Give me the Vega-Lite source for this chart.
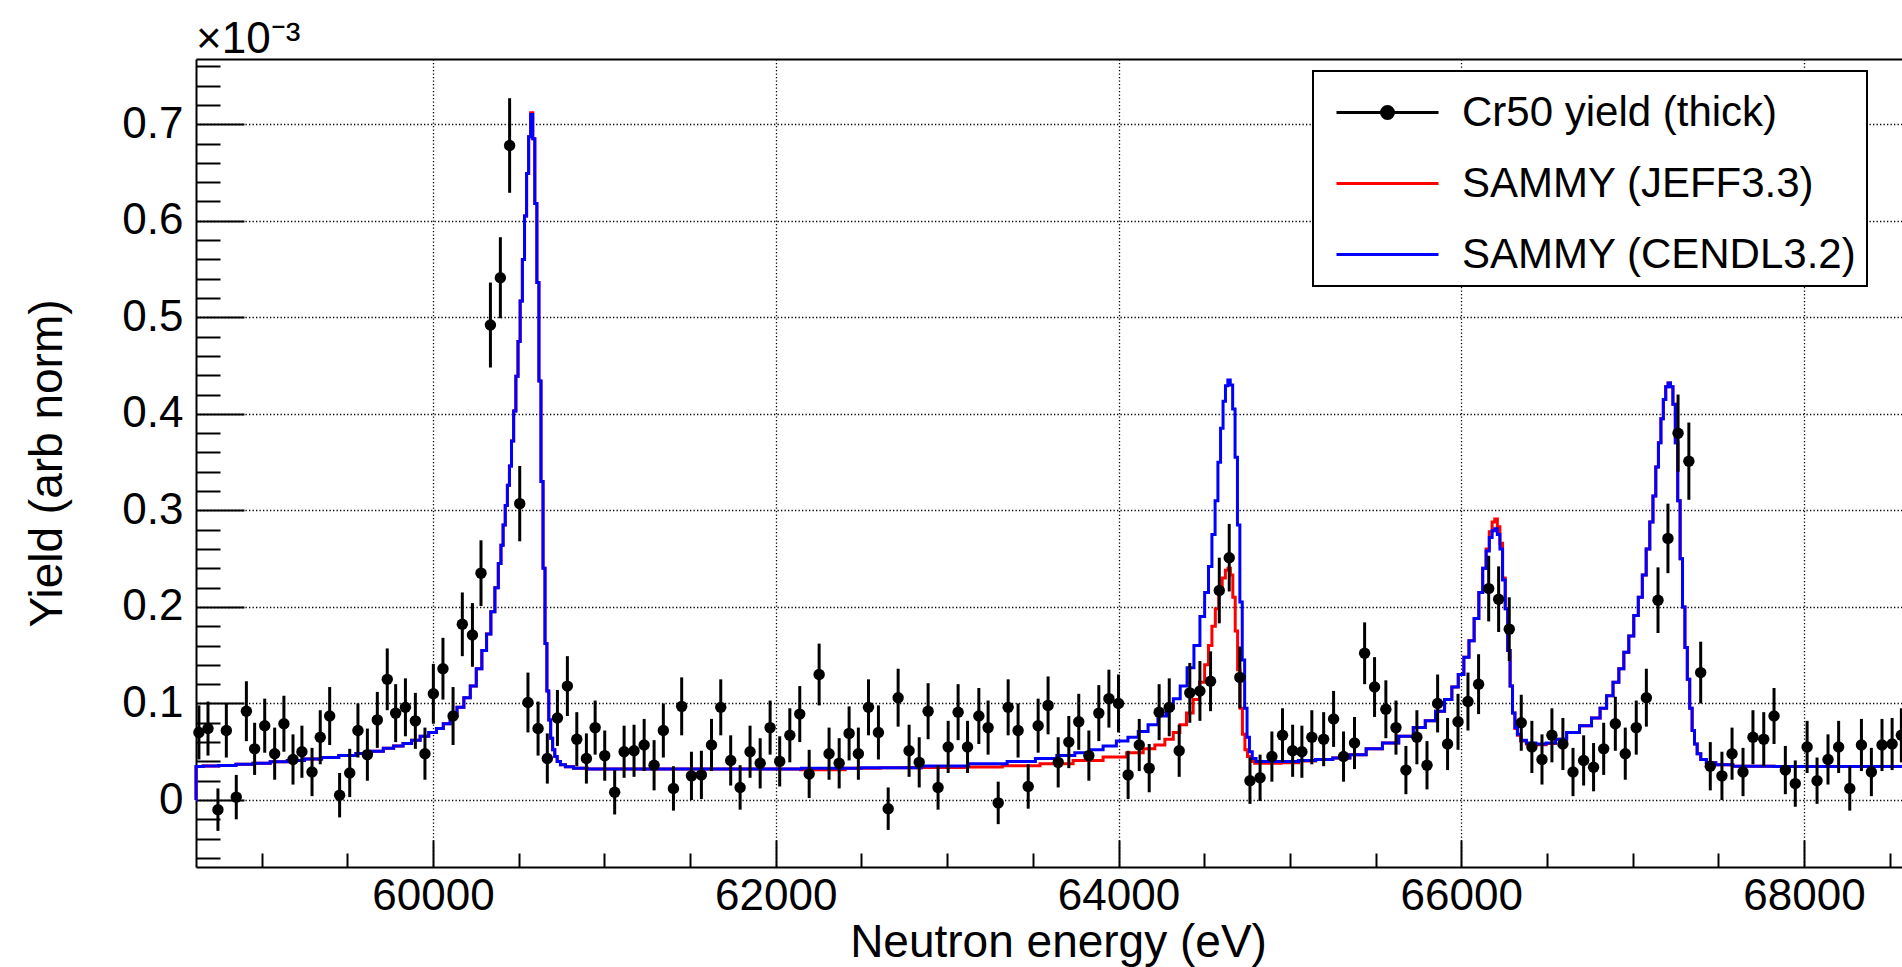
{
  "$schema": "https://vega.github.io/schema/vega-lite/v6.json",
  "width": 1706,
  "height": 808,
  "autosize": {"type": "none"},
  "padding": {"left": 196, "top": 59, "right": 0, "bottom": 100},
  "background": "white",
  "title": {"text": "×10⁻³", "anchor": "start", "frame": "group", "fontSize": 44, "fontWeight": "normal", "font": "Liberation Sans", "color": "black", "baseline": "alphabetic", "offset": 7, "dy": 45},
  "config": {
    "font": "Liberation Sans",
    "view": {"stroke": null},
    "axis": {"labelColor": "black", "titleColor": "black", "titleFontWeight": "normal", "labelFont": "Liberation Sans", "titleFont": "Liberation Sans", "tickColor": "black", "domainColor": "black"}
  },
  "datasets": {
    "pts": [
      {"e":58634,"y":0.070,"err":0.028},{"e":58687,"y":0.074,"err":0.028},{"e":58745,"y":-0.010,"err":0.022},{"e":58794,"y":0.072,"err":0.028},
      {"e":58852,"y":0.003,"err":0.023},{"e":58911,"y":0.092,"err":0.031},{"e":58959,"y":0.053,"err":0.027},{"e":59018,"y":0.077,"err":0.028},
      {"e":59076,"y":0.048,"err":0.027},{"e":59130,"y":0.079,"err":0.029},{"e":59183,"y":0.042,"err":0.026},{"e":59235,"y":0.050,"err":0.027},
      {"e":59294,"y":0.029,"err":0.025},{"e":59342,"y":0.065,"err":0.028},{"e":59397,"y":0.087,"err":0.030},{"e":59455,"y":0.005,"err":0.023},
      {"e":59514,"y":0.028,"err":0.025},{"e":59562,"y":0.072,"err":0.028},{"e":59617,"y":0.047,"err":0.027},{"e":59675,"y":0.083,"err":0.029},
      {"e":59733,"y":0.125,"err":0.032},{"e":59782,"y":0.090,"err":0.030},{"e":59839,"y":0.096,"err":0.030},{"e":59897,"y":0.082,"err":0.029},
      {"e":59953,"y":0.048,"err":0.027},{"e":60002,"y":0.110,"err":0.031},{"e":60058,"y":0.136,"err":0.032},{"e":60117,"y":0.087,"err":0.030},
      {"e":60171,"y":0.182,"err":0.033},{"e":60230,"y":0.171,"err":0.033},{"e":60280,"y":0.235,"err":0.034},{"e":60335,"y":0.492,"err":0.044},
      {"e":60393,"y":0.541,"err":0.042},{"e":60447,"y":0.678,"err":0.049},{"e":60506,"y":0.307,"err":0.039},{"e":60554,"y":0.101,"err":0.031},
      {"e":60613,"y":0.074,"err":0.028},{"e":60667,"y":0.043,"err":0.026},{"e":60726,"y":0.085,"err":0.029},{"e":60784,"y":0.118,"err":0.031},
      {"e":60839,"y":0.063,"err":0.028},{"e":60895,"y":0.043,"err":0.026},{"e":60946,"y":0.075,"err":0.028},{"e":61002,"y":0.046,"err":0.026},
      {"e":61060,"y":0.008,"err":0.023},{"e":61115,"y":0.050,"err":0.027},{"e":61173,"y":0.051,"err":0.027},{"e":61232,"y":0.057,"err":0.027},
      {"e":61290,"y":0.036,"err":0.026},{"e":61344,"y":0.072,"err":0.028},{"e":61403,"y":0.012,"err":0.023},{"e":61451,"y":0.097,"err":0.030},
      {"e":61508,"y":0.025,"err":0.025},{"e":61566,"y":0.026,"err":0.025},{"e":61625,"y":0.057,"err":0.027},{"e":61679,"y":0.096,"err":0.029},
      {"e":61737,"y":0.041,"err":0.026},{"e":61792,"y":0.013,"err":0.023},{"e":61850,"y":0.050,"err":0.027},{"e":61909,"y":0.038,"err":0.026},
      {"e":61967,"y":0.075,"err":0.028},{"e":62023,"y":0.040,"err":0.026},{"e":62082,"y":0.067,"err":0.028},{"e":62140,"y":0.089,"err":0.029},
      {"e":62195,"y":0.027,"err":0.025},{"e":62253,"y":0.130,"err":0.032},{"e":62311,"y":0.048,"err":0.027},{"e":62370,"y":0.038,"err":0.026},
      {"e":62428,"y":0.069,"err":0.028},{"e":62482,"y":0.048,"err":0.027},{"e":62541,"y":0.096,"err":0.029},{"e":62599,"y":0.070,"err":0.028},
      {"e":62656,"y":-0.009,"err":0.022},{"e":62714,"y":0.106,"err":0.030},{"e":62778,"y":0.051,"err":0.027},{"e":62837,"y":0.039,"err":0.026},
      {"e":62889,"y":0.092,"err":0.029},{"e":62947,"y":0.013,"err":0.023},{"e":63006,"y":0.055,"err":0.027},{"e":63064,"y":0.091,"err":0.029},
      {"e":63119,"y":0.055,"err":0.027},{"e":63185,"y":0.087,"err":0.029},{"e":63239,"y":0.075,"err":0.028},{"e":63298,"y":-0.003,"err":0.022},
      {"e":63356,"y":0.096,"err":0.029},{"e":63414,"y":0.072,"err":0.028},{"e":63473,"y":0.014,"err":0.023},{"e":63531,"y":0.077,"err":0.028},
      {"e":63589,"y":0.098,"err":0.030},{"e":63648,"y":0.039,"err":0.026},{"e":63710,"y":0.060,"err":0.027},{"e":63768,"y":0.081,"err":0.029},
      {"e":63827,"y":0.046,"err":0.026},{"e":63885,"y":0.090,"err":0.029},{"e":63944,"y":0.105,"err":0.030},{"e":64000,"y":0.100,"err":0.030},
      {"e":64056,"y":0.026,"err":0.025},{"e":64121,"y":0.057,"err":0.027},{"e":64179,"y":0.033,"err":0.025},{"e":64237,"y":0.091,"err":0.029},
      {"e":64296,"y":0.096,"err":0.030},{"e":64354,"y":0.051,"err":0.027},{"e":64416,"y":0.111,"err":0.031},{"e":64475,"y":0.113,"err":0.031},
      {"e":64537,"y":0.123,"err":0.031},{"e":64588,"y":0.217,"err":0.034},{"e":64646,"y":0.251,"err":0.035},{"e":64708,"y":0.127,"err":0.032},
      {"e":64767,"y":0.020,"err":0.024},{"e":64826,"y":0.023,"err":0.024},{"e":64895,"y":0.045,"err":0.026},{"e":64957,"y":0.067,"err":0.028},
      {"e":65016,"y":0.051,"err":0.027},{"e":65070,"y":0.050,"err":0.027},{"e":65128,"y":0.065,"err":0.028},{"e":65197,"y":0.063,"err":0.028},
      {"e":65255,"y":0.084,"err":0.029},{"e":65313,"y":0.045,"err":0.026},{"e":65377,"y":0.059,"err":0.027},{"e":65436,"y":0.152,"err":0.032},
      {"e":65494,"y":0.117,"err":0.031},{"e":65560,"y":0.094,"err":0.030},{"e":65619,"y":0.075,"err":0.028},{"e":65677,"y":0.031,"err":0.025},
      {"e":65741,"y":0.065,"err":0.028},{"e":65800,"y":0.036,"err":0.025},{"e":65862,"y":0.100,"err":0.030},{"e":65920,"y":0.058,"err":0.027},
      {"e":65981,"y":0.081,"err":0.029},{"e":66039,"y":0.102,"err":0.030},{"e":66101,"y":0.120,"err":0.031},{"e":66160,"y":0.219,"err":0.034},
      {"e":66218,"y":0.208,"err":0.034},{"e":66280,"y":0.177,"err":0.033},{"e":66350,"y":0.080,"err":0.029},{"e":66412,"y":0.055,"err":0.027},
      {"e":66471,"y":0.042,"err":0.026},{"e":66529,"y":0.067,"err":0.028},{"e":66593,"y":0.058,"err":0.027},{"e":66652,"y":0.029,"err":0.025},
      {"e":66714,"y":0.041,"err":0.026},{"e":66772,"y":0.034,"err":0.025},{"e":66831,"y":0.053,"err":0.027},{"e":66899,"y":0.079,"err":0.028},
      {"e":66957,"y":0.048,"err":0.027},{"e":67021,"y":0.075,"err":0.028},{"e":67080,"y":0.106,"err":0.030},{"e":67148,"y":0.207,"err":0.034},
      {"e":67206,"y":0.271,"err":0.036},{"e":67265,"y":0.380,"err":0.040},{"e":67328,"y":0.351,"err":0.040},{"e":67397,"y":0.132,"err":0.032},
      {"e":67453,"y":0.035,"err":0.025},{"e":67521,"y":0.025,"err":0.025},{"e":67580,"y":0.048,"err":0.027},{"e":67644,"y":0.029,"err":0.025},
      {"e":67702,"y":0.065,"err":0.028},{"e":67765,"y":0.063,"err":0.028},{"e":67825,"y":0.087,"err":0.029},{"e":67891,"y":0.031,"err":0.025},
      {"e":67949,"y":0.017,"err":0.024},{"e":68018,"y":0.055,"err":0.027},{"e":68076,"y":0.020,"err":0.024},{"e":68140,"y":0.042,"err":0.026},
      {"e":68202,"y":0.055,"err":0.027},{"e":68267,"y":0.012,"err":0.023},{"e":68335,"y":0.057,"err":0.027},{"e":68393,"y":0.029,"err":0.025},
      {"e":68455,"y":0.057,"err":0.027},{"e":68514,"y":0.058,"err":0.027},{"e":68568,"y":0.067,"err":0.028}
    ],
    "cendl": [
      {"e":58617,"y":0},{"e":58617.5,"y":0.0348},{"e":58700,"y":0.0352},{"e":58800,"y":0.0358},{"e":58900,"y":0.0370},{"e":59000,"y":0.0380},
      {"e":59100,"y":0.0395},{"e":59200,"y":0.0410},{"e":59300,"y":0.0425},{"e":59400,"y":0.0440},{"e":59500,"y":0.0460},{"e":59600,"y":0.0482},
      {"e":59680,"y":0.0505},{"e":59740,"y":0.0535},{"e":59800,"y":0.0560},{"e":59850,"y":0.0585},{"e":59900,"y":0.0620},{"e":59950,"y":0.0660},
      {"e":60000,"y":0.0700},{"e":60040,"y":0.0740},{"e":60080,"y":0.0790},{"e":60120,"y":0.0870},{"e":60160,"y":0.0960},{"e":60200,"y":0.1060},
      {"e":60235,"y":0.1180},{"e":60270,"y":0.1360},{"e":60300,"y":0.1550},{"e":60325,"y":0.1720},{"e":60350,"y":0.1950},{"e":60372,"y":0.2200},
      {"e":60390,"y":0.2450},{"e":60403,"y":0.2640},{"e":60415,"y":0.2850},{"e":60428,"y":0.3050},{"e":60440,"y":0.3260},{"e":60452,"y":0.3460},
      {"e":60464,"y":0.3720},{"e":60477,"y":0.4030},{"e":60490,"y":0.4390},{"e":60502,"y":0.4750},{"e":60515,"y":0.5170},{"e":60528,"y":0.5600},
      {"e":60540,"y":0.6050},{"e":60552,"y":0.6490},{"e":60564,"y":0.6870},{"e":60576,"y":0.7100},{"e":60588,"y":0.6850},{"e":60600,"y":0.6180},
      {"e":60612,"y":0.5360},{"e":60624,"y":0.4340},{"e":60636,"y":0.3300},{"e":60648,"y":0.2400},{"e":60659,"y":0.1620},{"e":60670,"y":0.1130},
      {"e":60681,"y":0.0830},{"e":60692,"y":0.0640},{"e":60704,"y":0.0520},{"e":60717,"y":0.0450},{"e":60732,"y":0.0400},{"e":60755,"y":0.0365},
      {"e":60790,"y":0.0345},{"e":60850,"y":0.0330},{"e":60950,"y":0.0322},{"e":61200,"y":0.0320},{"e":61600,"y":0.0320},{"e":62000,"y":0.0322},
      {"e":62300,"y":0.0330},{"e":62700,"y":0.0335},{"e":63000,"y":0.0352},{"e":63250,"y":0.0376},{"e":63450,"y":0.0400},{"e":63580,"y":0.0430},
      {"e":63700,"y":0.0460},{"e":63790,"y":0.0490},{"e":63870,"y":0.0520},{"e":63950,"y":0.0560},{"e":64025,"y":0.0610},{"e":64085,"y":0.0650},
      {"e":64145,"y":0.0710},{"e":64200,"y":0.0780},{"e":64260,"y":0.0870},{"e":64300,"y":0.0950},{"e":64340,"y":0.1050},{"e":64380,"y":0.1180},
      {"e":64420,"y":0.1370},{"e":64460,"y":0.1600},{"e":64490,"y":0.1900},{"e":64515,"y":0.2150},{"e":64535,"y":0.2420},{"e":64555,"y":0.2750},
      {"e":64572,"y":0.3100},{"e":64588,"y":0.3500},{"e":64603,"y":0.3850},{"e":64617,"y":0.4130},{"e":64631,"y":0.4290},{"e":64645,"y":0.4350},
      {"e":64659,"y":0.4300},{"e":64673,"y":0.4050},{"e":64687,"y":0.3550},{"e":64701,"y":0.2850},{"e":64715,"y":0.2050},{"e":64729,"y":0.1450},
      {"e":64743,"y":0.0950},{"e":64757,"y":0.0650},{"e":64771,"y":0.0500},{"e":64790,"y":0.0430},{"e":64815,"y":0.0400},{"e":64900,"y":0.0400},
      {"e":65000,"y":0.0400},{"e":65100,"y":0.0410},{"e":65200,"y":0.0420},{"e":65300,"y":0.0435},{"e":65400,"y":0.0470},{"e":65490,"y":0.0530},
      {"e":65590,"y":0.0590},{"e":65680,"y":0.0660},{"e":65760,"y":0.0750},{"e":65820,"y":0.0820},{"e":65880,"y":0.0920},{"e":65925,"y":0.1040},
      {"e":65965,"y":0.1170},{"e":66000,"y":0.1300},{"e":66030,"y":0.1480},{"e":66060,"y":0.1650},{"e":66090,"y":0.1880},{"e":66115,"y":0.2150},
      {"e":66135,"y":0.2400},{"e":66155,"y":0.2580},{"e":66172,"y":0.2720},{"e":66188,"y":0.2790},{"e":66203,"y":0.2810},{"e":66218,"y":0.2750},
      {"e":66233,"y":0.2600},{"e":66249,"y":0.2280},{"e":66264,"y":0.1980},{"e":66278,"y":0.1550},{"e":66292,"y":0.1180},{"e":66306,"y":0.0900},
      {"e":66320,"y":0.0750},{"e":66335,"y":0.0680},{"e":66360,"y":0.0620},{"e":66400,"y":0.0590},{"e":66470,"y":0.0580},{"e":66520,"y":0.0590},
      {"e":66580,"y":0.0630},{"e":66650,"y":0.0700},{"e":66730,"y":0.0770},{"e":66790,"y":0.0850},{"e":66830,"y":0.0950},{"e":66866,"y":0.1080},
      {"e":66905,"y":0.1220},{"e":66934,"y":0.1360},{"e":66963,"y":0.1530},{"e":66992,"y":0.1700},{"e":67021,"y":0.1910},{"e":67045,"y":0.2100},
      {"e":67068,"y":0.2330},{"e":67090,"y":0.2600},{"e":67110,"y":0.2880},{"e":67127,"y":0.3150},{"e":67143,"y":0.3450},{"e":67158,"y":0.3700},
      {"e":67172,"y":0.3950},{"e":67186,"y":0.4150},{"e":67200,"y":0.4280},{"e":67214,"y":0.4320},{"e":67228,"y":0.4280},{"e":67242,"y":0.4100},
      {"e":67256,"y":0.3700},{"e":67270,"y":0.3100},{"e":67284,"y":0.2500},{"e":67298,"y":0.2000},{"e":67312,"y":0.1580},{"e":67326,"y":0.1250},
      {"e":67340,"y":0.0950},{"e":67354,"y":0.0720},{"e":67368,"y":0.0580},{"e":67385,"y":0.0480},{"e":67410,"y":0.0420},{"e":67450,"y":0.0385},
      {"e":67520,"y":0.0365},{"e":67650,"y":0.0350},{"e":68000,"y":0.0348},{"e":68571,"y":0.0348}
    ],
    "jeff": [
      {"e":58617,"y":0},{"e":58617.5,"y":0.0348},{"e":58700,"y":0.0352},{"e":58800,"y":0.0358},{"e":58900,"y":0.0370},{"e":59000,"y":0.0380},
      {"e":59100,"y":0.0395},{"e":59200,"y":0.0410},{"e":59300,"y":0.0425},{"e":59400,"y":0.0440},{"e":59500,"y":0.0460},{"e":59600,"y":0.0482},
      {"e":59680,"y":0.0505},{"e":59740,"y":0.0535},{"e":59800,"y":0.0560},{"e":59850,"y":0.0585},{"e":59900,"y":0.0620},{"e":59950,"y":0.0660},
      {"e":60000,"y":0.0700},{"e":60040,"y":0.0740},{"e":60080,"y":0.0790},{"e":60120,"y":0.0870},{"e":60160,"y":0.0960},{"e":60200,"y":0.1060},
      {"e":60235,"y":0.1180},{"e":60270,"y":0.1360},{"e":60300,"y":0.1550},{"e":60325,"y":0.1720},{"e":60350,"y":0.1950},{"e":60372,"y":0.2200},
      {"e":60390,"y":0.2450},{"e":60403,"y":0.2640},{"e":60415,"y":0.2850},{"e":60428,"y":0.3050},{"e":60440,"y":0.3260},{"e":60452,"y":0.3460},
      {"e":60464,"y":0.3720},{"e":60477,"y":0.4030},{"e":60490,"y":0.4390},{"e":60502,"y":0.4750},{"e":60515,"y":0.5170},{"e":60528,"y":0.5600},
      {"e":60540,"y":0.6050},{"e":60552,"y":0.6490},{"e":60564,"y":0.6870},{"e":60576,"y":0.7120},{"e":60588,"y":0.6850},{"e":60600,"y":0.6180},
      {"e":60612,"y":0.5360},{"e":60624,"y":0.4340},{"e":60636,"y":0.3300},{"e":60648,"y":0.2400},{"e":60659,"y":0.1620},{"e":60670,"y":0.1130},
      {"e":60681,"y":0.0830},{"e":60692,"y":0.0640},{"e":60704,"y":0.0520},{"e":60717,"y":0.0450},{"e":60732,"y":0.0400},{"e":60755,"y":0.0365},
      {"e":60790,"y":0.0345},{"e":60850,"y":0.0330},{"e":60950,"y":0.0322},{"e":61200,"y":0.0320},{"e":61600,"y":0.0320},{"e":62000,"y":0.0322},
      {"e":62290,"y":0.0313},{"e":62520,"y":0.0328},{"e":62700,"y":0.0335},{"e":63000,"y":0.0337},{"e":63200,"y":0.0342},{"e":63444,"y":0.0355},
      {"e":63640,"y":0.0376},{"e":63830,"y":0.0410},{"e":63990,"y":0.0445},{"e":64105,"y":0.0490},{"e":64183,"y":0.0530},{"e":64241,"y":0.0570},
      {"e":64300,"y":0.0630},{"e":64339,"y":0.0700},{"e":64377,"y":0.0780},{"e":64416,"y":0.0900},{"e":64455,"y":0.1040},{"e":64490,"y":0.1220},
      {"e":64515,"y":0.1400},{"e":64535,"y":0.1600},{"e":64555,"y":0.1800},{"e":64575,"y":0.1980},{"e":64595,"y":0.2150},{"e":64615,"y":0.2300},
      {"e":64632,"y":0.2380},{"e":64646,"y":0.2400},{"e":64660,"y":0.2330},{"e":64674,"y":0.2100},{"e":64688,"y":0.1750},{"e":64702,"y":0.1350},
      {"e":64716,"y":0.0950},{"e":64730,"y":0.0680},{"e":64745,"y":0.0520},{"e":64760,"y":0.0450},{"e":64780,"y":0.0400},{"e":64810,"y":0.0380},
      {"e":64900,"y":0.0380},{"e":65000,"y":0.0385},{"e":65100,"y":0.0405},{"e":65200,"y":0.0420},{"e":65300,"y":0.0435},{"e":65400,"y":0.0470},
      {"e":65490,"y":0.0530},{"e":65590,"y":0.0590},{"e":65680,"y":0.0660},{"e":65760,"y":0.0750},{"e":65820,"y":0.0820},{"e":65880,"y":0.0920},
      {"e":65925,"y":0.1040},{"e":65965,"y":0.1170},{"e":66000,"y":0.1300},{"e":66030,"y":0.1480},{"e":66060,"y":0.1650},{"e":66090,"y":0.1880},
      {"e":66115,"y":0.2150},{"e":66135,"y":0.2400},{"e":66155,"y":0.2600},{"e":66172,"y":0.2780},{"e":66188,"y":0.2880},{"e":66203,"y":0.2910},
      {"e":66218,"y":0.2830},{"e":66233,"y":0.2660},{"e":66249,"y":0.2300},{"e":66264,"y":0.1980},{"e":66278,"y":0.1550},{"e":66292,"y":0.1180},
      {"e":66306,"y":0.0900},{"e":66320,"y":0.0740},{"e":66335,"y":0.0670},{"e":66360,"y":0.0612},{"e":66400,"y":0.0580},{"e":66470,"y":0.0572},
      {"e":66520,"y":0.0585},{"e":66580,"y":0.0630},{"e":66650,"y":0.0700},{"e":66730,"y":0.0770},{"e":66790,"y":0.0850},{"e":66830,"y":0.0950},
      {"e":66866,"y":0.1080},{"e":66905,"y":0.1220},{"e":66934,"y":0.1360},{"e":66963,"y":0.1530},{"e":66992,"y":0.1700},{"e":67021,"y":0.1910},
      {"e":67045,"y":0.2100},{"e":67068,"y":0.2330},{"e":67090,"y":0.2600},{"e":67110,"y":0.2880},{"e":67127,"y":0.3150},{"e":67143,"y":0.3450},
      {"e":67158,"y":0.3700},{"e":67172,"y":0.3950},{"e":67186,"y":0.4150},{"e":67200,"y":0.4280},{"e":67214,"y":0.4320},{"e":67228,"y":0.4280},
      {"e":67242,"y":0.4100},{"e":67256,"y":0.3700},{"e":67270,"y":0.3100},{"e":67284,"y":0.2500},{"e":67298,"y":0.2000},{"e":67312,"y":0.1580},
      {"e":67326,"y":0.1250},{"e":67340,"y":0.0950},{"e":67354,"y":0.0720},{"e":67368,"y":0.0580},{"e":67385,"y":0.0480},{"e":67410,"y":0.0420},
      {"e":67450,"y":0.0385},{"e":67520,"y":0.0365},{"e":67650,"y":0.0350},{"e":68000,"y":0.0348},{"e":68571,"y":0.0348}
    ]
  },
  "layer": [
    {
      "data": {"name": "pts"},
      "mark": {"type": "point", "opacity": 0},
      "encoding": {
        "x": {"field": "e", "type": "quantitative", "scale": {"domain": [58617, 68571.7], "nice": false, "zero": false},
              "axis": {"orient": "bottom", "values": [59000,59500,60500,61000,61500,62500,63000,63500,64500,65000,65500,66500,67000,67500,68500], "labels": false, "tickSize": -14, "tickWidth": 2, "domain": false, "grid": false, "title": null}},
        "y": {"field": "y", "type": "quantitative", "scale": {"domain": [-0.0694, 0.7676], "nice": false, "zero": false},
              "axis": {"orient": "left", "values": [-0.06,-0.04,-0.02,0.02,0.04,0.06,0.08,0.12,0.14,0.16,0.18,0.22,0.24,0.26,0.28,0.32,0.34,0.36,0.38,0.42,0.44,0.46,0.48,0.52,0.54,0.56,0.58,0.62,0.64,0.66,0.68,0.72,0.74,0.76], "labels": false, "tickSize": -24, "tickWidth": 2, "domain": false, "grid": false, "title": null}}
      }
    },
    {
      "data": {"name": "pts"},
      "mark": {"type": "point", "opacity": 0},
      "encoding": {
        "x": {"field": "e", "type": "quantitative", "scale": {"domain": [58617, 68571.7], "nice": false, "zero": false},
              "axis": {"orient": "top", "labels": false, "ticks": false, "domain": true, "domainWidth": 2, "grid": false, "title": null}},
        "y": {"field": "y", "type": "quantitative", "scale": {"domain": [-0.0694, 0.7676], "nice": false, "zero": false}, "axis": null}
      }
    },
    {
      "data": {"name": "jeff"},
      "mark": {"type": "line", "interpolate": "step", "strokeWidth": 3},
      "encoding": {
        "x": {"field": "e", "type": "quantitative", "scale": {"domain": [58617, 68571.7], "nice": false, "zero": false},
              "axis": {"orient": "bottom", "values": [60000,62000,64000,66000,68000], "format": "d", "labelFontSize": 44, "labelPadding": 34, "tickSize": -27, "tickWidth": 2, "domainWidth": 2, "grid": true, "gridColor": "black", "gridDash": [1.3, 2.2], "gridWidth": 1.3, "gridOpacity": 1, "labelFlush": false, "labelOverlap": false, "title": "Neutron energy (eV)", "titleFontSize": 46, "titlePadding": 2, "titleX": 862, "titleAlign": "center"}},
        "y": {"field": "y", "type": "quantitative", "scale": {"domain": [-0.0694, 0.7676], "nice": false, "zero": false},
              "axis": {"orient": "left", "values": [0,0.1,0.2,0.3,0.4,0.5,0.6,0.7], "format": ".1~f", "labelFontSize": 44, "labelPadding": 61, "tickSize": -48, "tickWidth": 2, "domainWidth": 2, "grid": true, "gridColor": "black", "gridDash": [1.3, 2.2], "gridWidth": 1.3, "gridOpacity": 1, "labelFlush": false, "labelOverlap": false, "title": "Yield (arb norm)", "titleFontSize": 46, "titlePadding": 50}},
        "color": {"datum": "SAMMY (JEFF3.3)", "type": "nominal",
                  "scale": {"domain": ["Cr50 yield (thick)", "SAMMY (JEFF3.3)", "SAMMY (CENDL3.2)"], "range": ["#000000", "#ff0000", "#0000ff"]},
                  "legend": {
                    "orient": "none", "legendX": 1117, "legendY": 12, "title": null, "direction": "vertical",
                    "fillColor": "white", "strokeColor": "black", "padding": 10, "cornerRadius": 0,
                    "labelFont": "Liberation Sans", "labelFontSize": 42, "labelColor": "black", "labelLimit": 0, "labelOffset": 76,
                    "labelExpr": "datum.label + ' '",
                    "symbolSize": 3600, "symbolStrokeWidth": 3, "rowPadding": 18,
                    "encode": {
                      "legend": {"update": {"strokeWidth": {"value": 2}}},
                      "symbols": {"update": {
                      "shape": {"signal": "datum.value === 'Cr50 yield (thick)' ? 'M-0.6,0L2.8,0M1.3,0A0.2,0.2,0,1,1,0.9,0A0.2,0.2,0,1,1,1.3,0Z' : 'M-0.6,0L2.8,0'"},
                      "stroke": {"signal": "datum.value === 'Cr50 yield (thick)' ? '#000000' : datum.value === 'SAMMY (JEFF3.3)' ? '#ff0000' : '#0000ff'"},
                      "fill": {"signal": "datum.value === 'Cr50 yield (thick)' ? '#000000' : 'transparent'"},
                      "strokeWidth": {"value": 3},
                      "opacity": {"value": 1}
                    }}}
                  }}
      }
    },
    {
      "data": {"name": "cendl"},
      "mark": {"type": "line", "interpolate": "step", "strokeWidth": 3},
      "encoding": {
        "x": {"field": "e", "type": "quantitative", "scale": {"domain": [58617, 68571.7], "nice": false, "zero": false}, "axis": null},
        "y": {"field": "y", "type": "quantitative", "scale": {"domain": [-0.0694, 0.7676], "nice": false, "zero": false}, "axis": null},
        "color": {"datum": "SAMMY (CENDL3.2)", "type": "nominal"}
      }
    },
    {
      "data": {"name": "pts"},
      "mark": {"type": "errorbar", "thickness": 3, "color": "black"},
      "encoding": {
        "x": {"field": "e", "type": "quantitative", "scale": {"domain": [58617, 68571.7], "nice": false, "zero": false}, "axis": null},
        "y": {"field": "y", "type": "quantitative", "scale": {"domain": [-0.0694, 0.7676], "nice": false, "zero": false}, "axis": null},
        "yError": {"field": "err"}
      }
    },
    {
      "data": {"name": "pts"},
      "mark": {"type": "circle", "size": 130, "opacity": 1},
      "encoding": {
        "x": {"field": "e", "type": "quantitative", "scale": {"domain": [58617, 68571.7], "nice": false, "zero": false}, "axis": null},
        "y": {"field": "y", "type": "quantitative", "scale": {"domain": [-0.0694, 0.7676], "nice": false, "zero": false}, "axis": null},
        "color": {"datum": "Cr50 yield (thick)", "type": "nominal"}
      }
    }
  ],
  "resolve": {"axis": {"x": "independent", "y": "independent"}}
}
